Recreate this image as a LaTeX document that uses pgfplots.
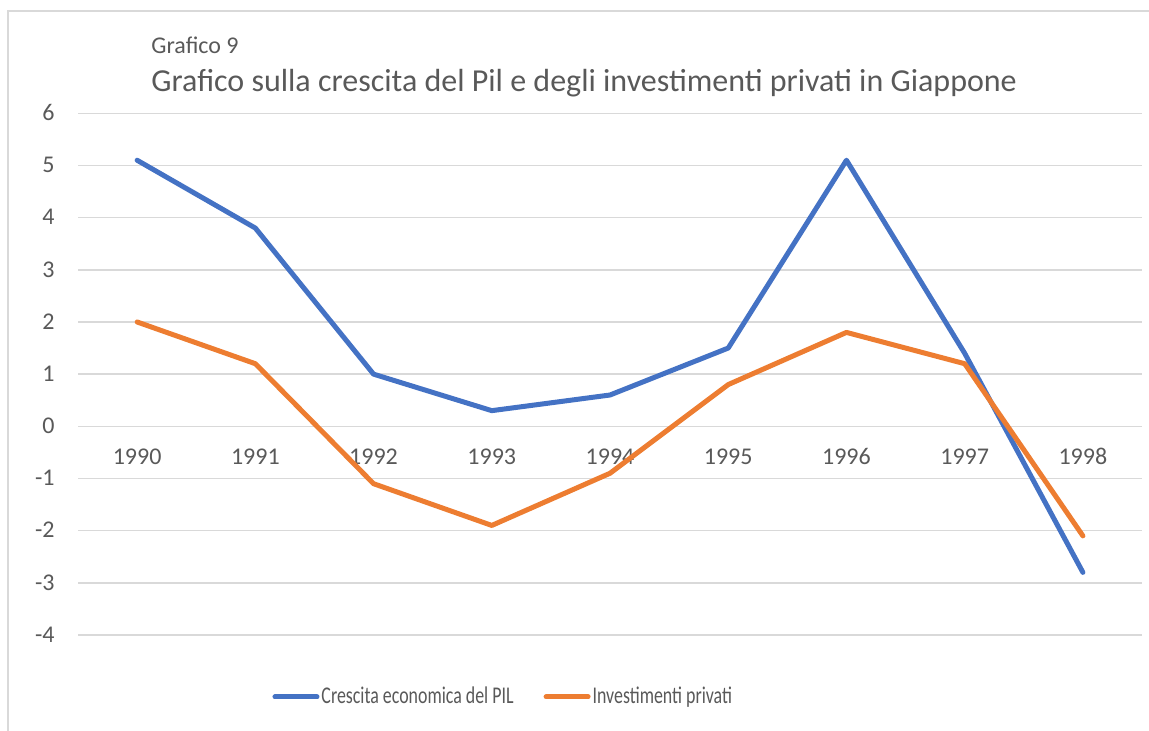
\documentclass[border=0pt]{standalone}
\usepackage{pgfplots}
\pgfplotsset{compat=1.18}
\usepackage{fontspec}
\setmainfont{Carlito}
\definecolor{txt}{HTML}{595959}
\definecolor{gridc}{HTML}{D9D9D9}
\definecolor{sblue}{HTML}{4472C4}
\definecolor{sorange}{HTML}{ED7D31}
\begin{document}
\begin{tikzpicture}
\useasboundingbox (0pt,0pt) rectangle (574.5pt,365.5pt);
\draw[gridc,line width=0.7pt] (4pt,0pt) -- (4pt,360pt) -- (574.5pt,360pt);
\node[anchor=base west,inner sep=0pt,text=txt,font=\fontsize{12}{14}\selectfont] at (75.5pt,338.5pt) {Grafico 9};
\node[anchor=base west,inner sep=0pt,text=txt,font=\fontsize{16}{19}\selectfont] at (75.5pt,319.65pt) {Grafico sulla crescita del Pil e degli investimenti privati in Giappone};
\begin{axis}[
  at={(39pt,48pt)}, anchor=south west,
  scale only axis, width=532pt, height=260.85pt,
  xmin=-0.5, xmax=8.5, ymin=-4, ymax=6,
  axis line style={draw=none},
  xtick={0,...,8},
  xticklabels={1990,1991,1992,1993,1994,1995,1996,1997,1998},
  ytick={-4,-3,...,6},
  major tick length=0pt,
  ymajorgrids, xmajorgrids=false,
  grid style={gridc,line width=0.75pt},
  /pgf/number format/assume math mode=true,
  tick label style={font=\fontsize{12}{14}\selectfont, text=txt},
  xticklabel style={anchor=base, inner sep=0pt, yshift=85pt},
  yticklabel style={anchor=base east, inner sep=0pt, xshift=-11.5pt, yshift=-3.65pt},
  legend columns=2,
  legend style={at={(0.1824,-0.1188)}, anchor=west, draw=none, fill=none,
    inner sep=0pt, font=\fontsize{12}{14}\selectfont, text=txt,
    nodes={inner sep=1pt},
    /tikz/every even column/.append style={column sep=14pt}},
  legend image code/.code={\draw[#1,line cap=round] (0pt,0pt) -- (21pt,0pt);},
  clip=false,
]
\addplot[sblue, line width=2.5pt, line join=round, line cap=round] coordinates {
 (0,5.1) (1,3.8) (2,1.0) (3,0.3) (4,0.6) (5,1.5) (6,5.1) (7,1.4) (8,-2.8)};
\addlegendentry{\scalebox{0.745}[1]{Crescita economica del PIL}}
\addplot[sorange, line width=2.5pt, line join=round, line cap=round] coordinates {
 (0,2.0) (1,1.2) (2,-1.1) (3,-1.9) (4,-0.9) (5,0.8) (6,1.8) (7,1.2) (8,-2.1)};
\addlegendentry{\scalebox{0.745}[1]{Investimenti privati}}
\end{axis}
\end{tikzpicture}
\end{document}
